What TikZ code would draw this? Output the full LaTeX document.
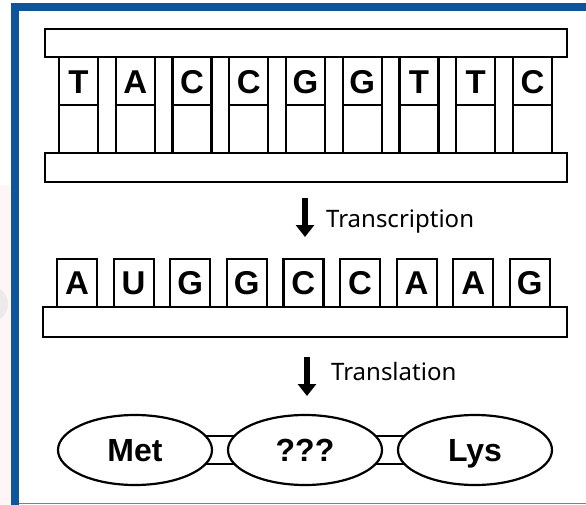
\documentclass[tikz,border=0pt]{standalone}
\usepackage{fontspec}
\setmainfont{Liberation Sans}
\newfontfamily\captionfont{Noto Sans}
\usetikzlibrary{calc,shapes.geometric,arrows.meta}
\definecolor{frameblue}{RGB}{14,85,155}

\begin{document}
\begin{tikzpicture}[x=1pt, y=-1pt, line width=2.2pt,
  base/.style={draw, fill=white, inner sep=0pt},
  letter/.style={inner sep=0pt, text depth=0pt, font=\fontsize{33}{33}\selectfont\bfseries},
  amino/.style={base, ellipse, minimum width=154pt, minimum height=70pt,
    text depth=0pt, font=\fontsize{32}{32}\selectfont\bfseries},
  downarrow/.style={line width=6pt, -{Triangle[width=18pt,length=12pt]}},
  caption/.style={anchor=base west, inner sep=0pt, font=\captionfont\fontsize{24}{24}\selectfont}]
  \useasboundingbox (0,0) rectangle (586,505);

  % page background and frame
  \fill[red!4] (0,185) rectangle (11,505);
  \fill[black!8] (-10,304) circle (18);
  \fill[frameblue] (11,3) rectangle (586,11);
  \fill[frameblue] (11,3) rectangle (19,505);
  \draw[frameblue!70, line width=1.2pt] (19,503.6) -- (586,503.6);

  % DNA: columns between the two backbones
  \foreach \b [count=\i from 0] in {T,A,C,C,G,G,T,T,C} {
    \node[base, minimum width=39pt, minimum height=96pt] (d\i) at (78.5+56.75*\i,105) {};
    \draw (d\i.west) -- (d\i.east);
    \node[letter] (dl\i) at (78.5+56.75*\i,82) {\b};
  }
  \node[base, minimum width=522pt, minimum height=28pt] (dtop) at (306,43) {};
  \node[base, minimum width=522pt, minimum height=29pt] (dbot) at (306,167.5) {};

  % transcription
  \coordinate (t1) at (305,198);
  \coordinate (t2) at (305,237);
  \draw[downarrow] (t1) -- (t2);
  \node[caption] (tscr) at (325,227) {Transcription};

  % mRNA
  \foreach \b [count=\i from 0] in {A,U,G,G,C,C,A,A,G}
    \node[base, letter, minimum width=40pt, minimum height=48pt] (r\i) at (77+56.6*\i,283) {\b};
  \node[base, minimum width=524pt, minimum height=30pt] (rbar) at (305,322) {};

  % translation
  \coordinate (s1) at (307,357);
  \coordinate (s2) at (307,396);
  \draw[downarrow] (s1) -- (s2);
  \node[caption] (tsl) at (330,380) {Translation};

  % peptide: bonds run between the ellipse borders, 14pt above and below the axis
  \node[amino] (met) at (135,450) {Met};
  \node[amino] (mid) at (305,450) {???};
  \node[amino] (lys) at (475,450) {Lys};
  \foreach \a/\b in {met/mid, mid/lys} {
    \draw ($(\a.center)+(70.6,-14)$) -- ($(\b.center)+(-70.6,-14)$);
    \draw ($(\a.center)+(70.6,14)$) -- ($(\b.center)+(-70.6,14)$);
  }
\end{tikzpicture}
\end{document}
